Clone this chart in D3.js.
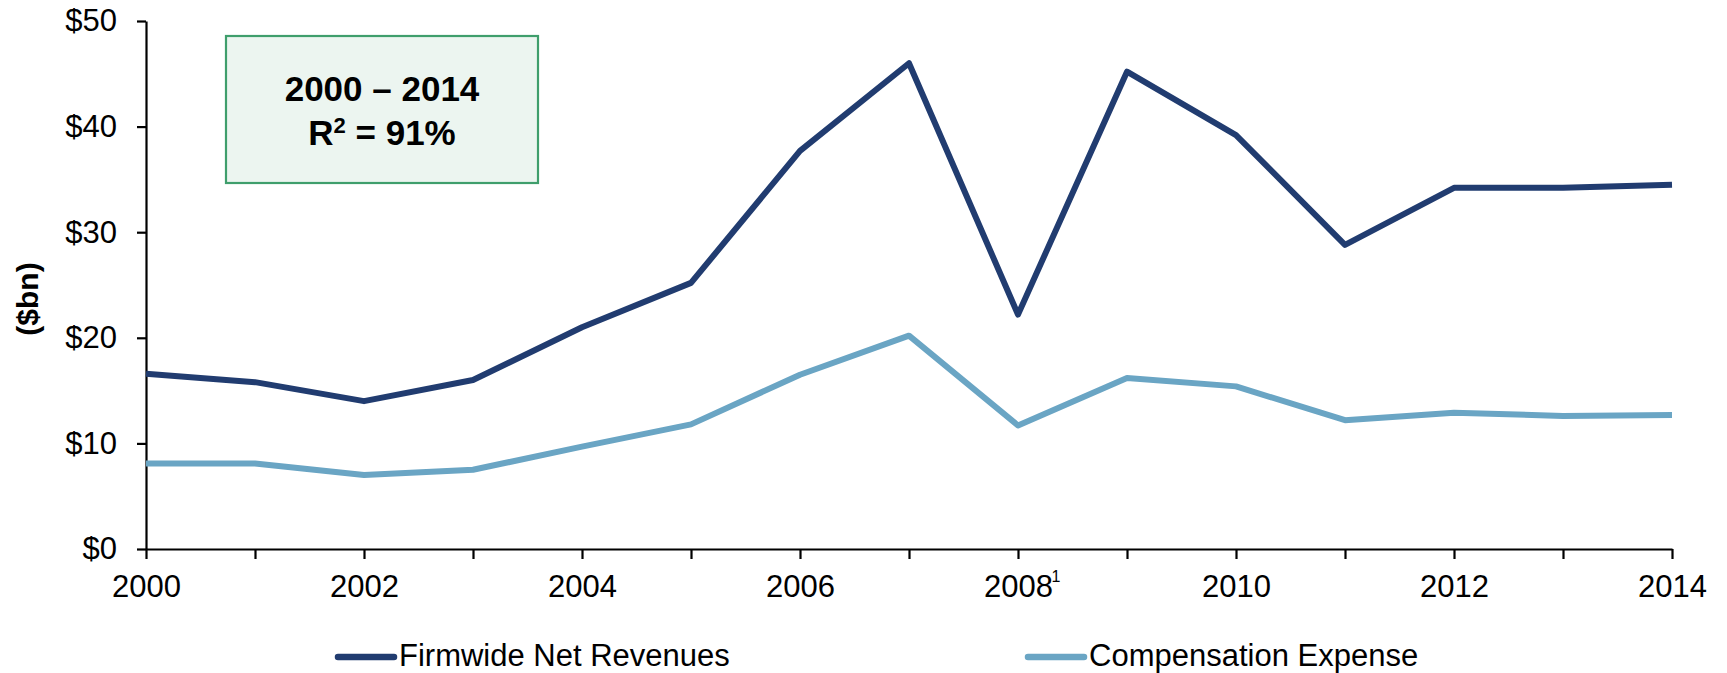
<!DOCTYPE html>
<html>
<head>
<meta charset="utf-8">
<script src="https://cdn.jsdelivr.net/npm/d3@7"></script>
<style>
  body { margin: 0; background: #fff; }
  svg { font-family: "Liberation Sans", Arial, sans-serif; }
</style>
</head>
<body>
<svg id="chart"></svg>
<script>
// data
const years = [2000, 2001, 2002, 2003, 2004, 2005, 2006, 2007, 2008, 2009, 2010, 2011, 2012, 2013, 2014];
const netRevenues = [16.6, 15.8, 14.0, 16.0, 21.0, 25.2, 37.7, 46.0, 22.2, 45.2, 39.2, 28.8, 34.2, 34.2, 34.5];
const compExpense = [8.1, 8.1, 7.0, 7.5, 9.7, 11.8, 16.5, 20.2, 11.7, 16.2, 15.4, 12.2, 12.9, 12.6, 12.7];
const seriesNames = ['Firmwide Net Revenues', 'Compensation Expense'];
const seriesColors = ['#213c70', '#6aa5c4'];
const yTicks = [0, 10, 20, 30, 40, 50];
const xLabelYears = [2000, 2002, 2004, 2006, 2008, 2010, 2012, 2014];
const boxLines = ['2000 \u2013 2014', 'R'];

const W = 1727, H = 673;
const margin = { top: 21, right: 55, bottom: 124, left: 146 };

const svg = d3.select('#chart')
    .attr('width', W)
    .attr('height', H);

const x = d3.scaleLinear()
    .domain([2000, 2014])
    .range([margin.left, W - margin.right]);

const y = d3.scaleLinear()
    .domain([0, 50])
    .range([H - margin.bottom, margin.top]);

// y axis
const yAxis = svg.append('g')
    .attr('transform', `translate(${margin.left},0)`)
    .call(d3.axisLeft(y).tickValues(yTicks).tickSize(9).tickSizeOuter(0).tickPadding(20)
        .tickFormat(d => '$' + d));

// x axis - tick every year, label every other
const xAxis = svg.append('g')
    .attr('transform', `translate(0,${y(0)})`)
    .call(d3.axisBottom(x).tickValues(years).tickSize(10).tickSizeOuter(0).tickPadding(16)
        .tickFormat(d => xLabelYears.includes(d) ? String(d) : ''));

[yAxis, xAxis].forEach(g => {
    g.selectAll('path.domain').attr('stroke', '#000').attr('stroke-width', 2.2);
    g.selectAll('.tick line').attr('stroke', '#000').attr('stroke-width', 2.2);
    g.selectAll('.tick text')
        .attr('fill', '#000')
        .style('font-size', '31px')
        .style('font-family', '"Liberation Sans", Arial, sans-serif');
});

// footnote marker on 2008
xAxis.selectAll('.tick').filter(d => d === 2008).each(function () {
    const t = d3.select(this).select('text');
    const w = t.node().getComputedTextLength();
    d3.select(this).append('text')
        .attr('x', w / 2 + 3)
        .attr('y', 33)
        .attr('fill', '#000')
        .style('font-size', '16px')
        .text('1');
});

// y axis title
svg.append('text')
    .attr('transform', `translate(38,299) rotate(-90)`)
    .attr('text-anchor', 'middle')
    .style('font-size', '30px')
    .style('font-weight', 'bold')
    .text('($bn)');

// lines
const line = d3.line()
    .x((d, i) => x(years[i]))
    .y(d => y(d));

[netRevenues, compExpense].forEach((vals, i) => {
    svg.append('path')
        .datum(vals)
        .attr('d', line)
        .attr('fill', 'none')
        .attr('stroke', seriesColors[i])
        .attr('stroke-width', 6)
        .attr('stroke-linejoin', 'round');
});

// R squared box
const box = svg.append('g');
box.append('rect')
    .attr('x', 226).attr('y', 36)
    .attr('width', 312).attr('height', 147)
    .attr('fill', '#ecf5f0')
    .attr('stroke', '#3f9e6c')
    .attr('stroke-width', 2.2);

box.append('text')
    .attr('x', 382).attr('y', 101)
    .attr('text-anchor', 'middle')
    .style('font-size', '35px')
    .style('font-weight', 'bold')
    .text(boxLines[0]);

const r2 = box.append('text')
    .attr('x', 382).attr('y', 145)
    .attr('text-anchor', 'middle')
    .style('font-size', '35px')
    .style('font-weight', 'bold');
r2.append('tspan').text(boxLines[1]);
r2.append('tspan').attr('dy', -12).style('font-size', '22px').text('2');
r2.append('tspan').attr('dy', 12).text(' = 91%');

// legend
const legendX = [338, 1028];
seriesNames.forEach((name, i) => {
    const g = svg.append('g').attr('transform', `translate(${legendX[i]},657)`);
    g.append('line')
        .attr('x1', 0).attr('x2', 56)
        .attr('stroke', seriesColors[i])
        .attr('stroke-width', 6.5)
        .attr('stroke-linecap', 'round');
    g.append('text')
        .attr('x', 61)
        .attr('y', 9)
        .style('font-size', '31px')
        .text(name);
});
</script>
</body>
</html>
